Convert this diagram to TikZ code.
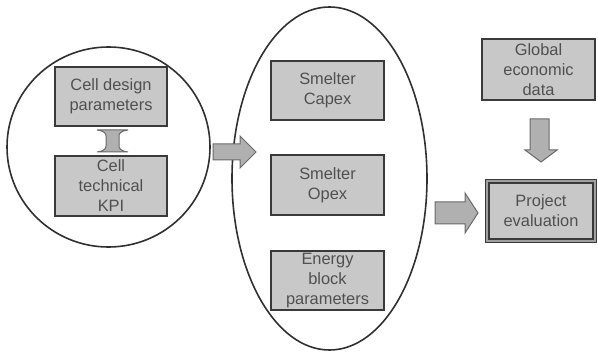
\documentclass[tikz,border=0pt]{standalone}
\usepackage{fontspec}
\setmainfont{Liberation Sans}
\usetikzlibrary{shapes.geometric}
\definecolor{boxfill}{HTML}{C8C8C8}
\definecolor{boxline}{HTML}{3A3A3A}
\definecolor{txt}{HTML}{505050}
\definecolor{arrfill}{HTML}{B0B0B0}
\definecolor{arrline}{HTML}{6A6A6A}
\definecolor{ringline}{HTML}{303030}
\begin{document}
\begin{tikzpicture}[x=0.75pt,y=-0.75pt,
  box/.style={draw=boxline, fill=boxfill, line width=1.5pt, text=txt, align=center,
    font=\fontsize{12.3}{15}\selectfont, inner sep=0pt,
    minimum width=84.5pt, minimum height=44.5pt},
  ring/.style={draw=ringline, line width=1.2pt, ellipse, inner sep=0pt},
  blockarr/.style={fill=arrfill, draw=arrline, line width=0.75pt}]
\useasboundingbox (0,0) rectangle (598,352);
% enclosures
\node[ring, minimum width=152.25pt, minimum height=150pt] (lring) at (108.5,147) {};
\node[ring, minimum width=146.25pt, minimum height=257.25pt] (mring) at (329.5,178.5) {};
% boxes
\node[box] (design) at (111,96.5) {Cell design\\parameters};
\node[box] (kpi) at (111,186) {Cell\\technical\\KPI};
\node[box] (capex) at (327.5,90.5) {Smelter\\Capex};
\node[box] (opex) at (327.5,185) {Smelter\\Opex};
\node[box] (energy) at (327.5,280.5) {Energy\\block\\parameters};
\node[box, minimum height=45.75pt] (global) at (538.5,69.5) {Global\\economic\\data};
\node[box, line width=1pt, double=boxfill!80!black, double distance=1.5pt,
  minimum width=80.5pt, minimum height=44.5pt] (proj) at (541,211) {Project\\evaluation};
% double arrow between design and kpi
\draw[blockarr] (97,130) -- (128,130) .. controls (120,131) and (119,134) .. (119,136)
  -- (119,146) .. controls (119,148) and (120,151) .. (128,152) -- (97,152)
  .. controls (105,151) and (106,148) .. (106,146) -- (106,136)
  .. controls (106,134) and (105,131) .. (97,130) -- cycle;
% arrow left ring -> middle ring
\draw[blockarr] (213,144) -- (240,144) -- (240,136) -- (256,152) -- (240,168)
  -- (240,160) -- (213,160) -- cycle;
% arrow middle ring -> project
\draw[blockarr] (435,202) -- (465,202) -- (465,193) -- (478,213) -- (465,233)
  -- (465,224) -- (435,224) -- cycle;
% arrow global -> project
\draw[blockarr] (530,119) -- (549,119) -- (549,150) -- (557,150) -- (541,162)
  -- (525,150) -- (530,150) -- cycle;
\end{tikzpicture}
\end{document}
